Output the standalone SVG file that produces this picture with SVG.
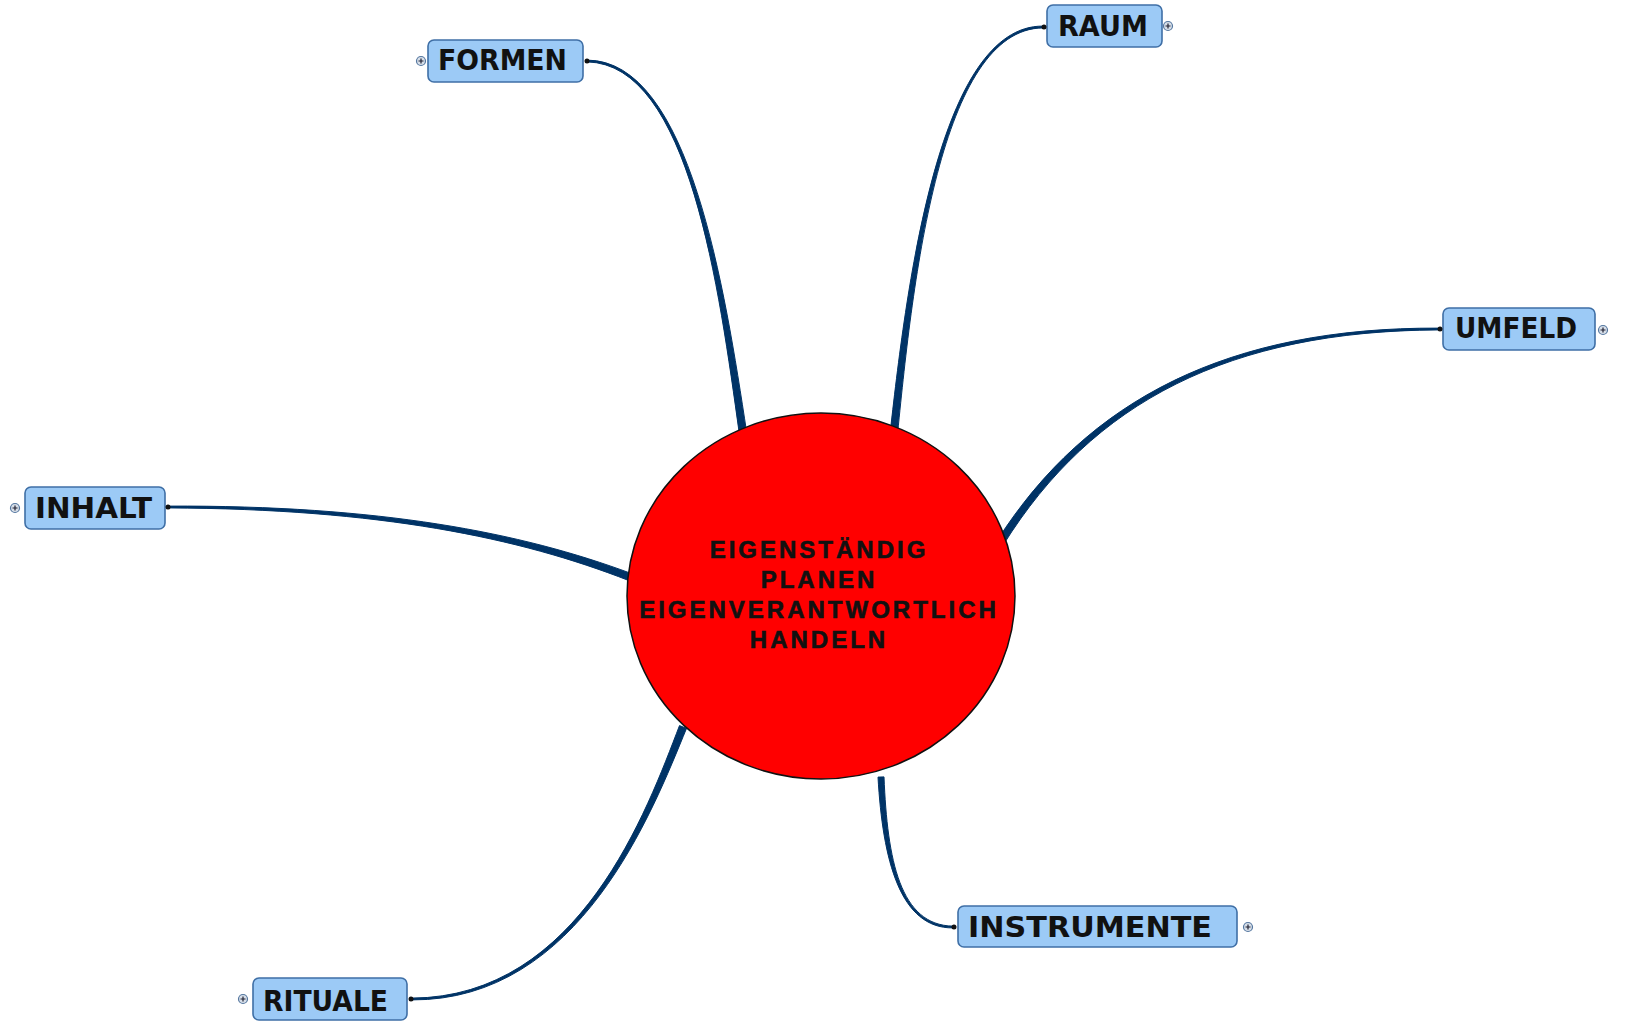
<svg xmlns="http://www.w3.org/2000/svg" width="1626" height="1023" viewBox="0 0 1626 1023">
<style>
.box{fill:#9CCAF6;stroke:#3F6FA6;stroke-width:1.6}
.lbl{font-family:"DejaVu Sans",Verdana,sans-serif;font-weight:bold;font-size:28px;fill:#111}
.ctr{font-family:"Liberation Sans",Arial,sans-serif;font-weight:bold;font-size:24px;fill:#111;stroke:#111;stroke-width:0.6;letter-spacing:3px}
.con{fill:#003366;stroke:#003366;stroke-width:1;stroke-linejoin:round}
.dot{fill:#111}
.exp{fill:#D6DEE8;stroke:#5577A0;stroke-width:1.2}
.plus{stroke:#223;stroke-width:1.2}
</style>
<rect width="1626" height="1023" fill="#fff"/>
<g id="connectors">
<path class="con" d="M587,61.9 C690,63.85 719.2,290.4 739.3,433.5 L746.7,432.5 C724.8,289.6 690,60.15 587,60.1 Z"/>
<path class="con" d="M1043,26.1 C940,25.15 907.2,279.7 890.3,431.6 L897.7,432.4 C912.8,280.3 940,28.85 1043,27.9 Z"/>
<path class="con" d="M1439,328.1 C1230,327.15 1087.6,398.5 996.8,541 L1003.2,545 C1092.4,401.5 1230,330.85 1439,329.9 Z"/>
<path class="con" d="M168,507.9 C380,508.85 519,537.6 628.7,580.5 L631.3,573.5 C521,532.4 380,505.15 168,506.1 Z"/>
<path class="con" d="M412,999.9 C580,1000.85 652.6,811 686.5,728.4 L679.5,725.6 C647.4,809 580,997.15 412,998.1 Z"/>
<path class="con" d="M953,926.1 C900,925.4 887.3,859.9 884,776.9 L878,777.1 C882.7,860.1 900,928.6 953,927.9 Z"/>
</g>
<g id="center">
<ellipse cx="821" cy="596" rx="194" ry="183" fill="#FF0000" stroke="#111" stroke-width="1.5"/>
<text class="ctr" x="819" y="558" text-anchor="middle">EIGENSTÄNDIG</text>
<text class="ctr" x="819" y="588" text-anchor="middle">PLANEN</text>
<text class="ctr" x="819" y="618" text-anchor="middle">EIGENVERANTWORTLICH</text>
<text class="ctr" x="819" y="648" text-anchor="middle">HANDELN</text>
</g>
<g id="formen">
<rect class="box" x="428" y="40" width="155" height="42" rx="6"/>
<text class="lbl" x="438" y="70" textLength="129" lengthAdjust="spacingAndGlyphs">FORMEN</text>
<circle class="dot" cx="587" cy="61" r="2.5"/>
<circle class="exp" cx="421" cy="61" r="4.5"/><path class="plus" d="M418.5,61h5M421,58.5v5"/>
</g>
<g id="raum">
<rect class="box" x="1047" y="5" width="115" height="42" rx="6"/>
<text class="lbl" x="1058" y="36" textLength="90" lengthAdjust="spacingAndGlyphs">RAUM</text>
<circle class="dot" cx="1044" cy="27" r="2.5"/>
<circle class="exp" cx="1168" cy="26" r="4.5"/><path class="plus" d="M1165.5,26h5M1168,23.5v5"/>
</g>
<g id="umfeld">
<rect class="box" x="1443" y="308" width="152" height="42" rx="6"/>
<text class="lbl" x="1455" y="338" textLength="122" lengthAdjust="spacingAndGlyphs">UMFELD</text>
<circle class="dot" cx="1440" cy="329" r="2.5"/>
<circle class="exp" cx="1603" cy="330" r="4.5"/><path class="plus" d="M1600.5,330h5M1603,327.5v5"/>
</g>
<g id="inhalt">
<rect class="box" x="25" y="487" width="140" height="42" rx="6"/>
<text class="lbl" x="35" y="518" textLength="117" lengthAdjust="spacingAndGlyphs">INHALT</text>
<circle class="dot" cx="168" cy="507" r="2.5"/>
<circle class="exp" cx="15" cy="508" r="4.5"/><path class="plus" d="M12.5,508h5M15,505.5v5"/>
</g>
<g id="instrumente">
<rect class="box" x="958" y="906" width="279" height="41" rx="6"/>
<text class="lbl" x="968" y="937" textLength="244" lengthAdjust="spacingAndGlyphs">INSTRUMENTE</text>
<circle class="dot" cx="954" cy="927" r="2.5"/>
<circle class="exp" cx="1248" cy="927" r="4.5"/><path class="plus" d="M1245.5,927h5M1248,924.5v5"/>
</g>
<g id="rituale">
<rect class="box" x="253" y="978" width="154" height="42" rx="6"/>
<text class="lbl" x="263" y="1011" textLength="125" lengthAdjust="spacingAndGlyphs">RITUALE</text>
<circle class="dot" cx="411" cy="999" r="2.5"/>
<circle class="exp" cx="243" cy="999" r="4.5"/><path class="plus" d="M240.5,999h5M243,996.5v5"/>
</g>
</svg>
